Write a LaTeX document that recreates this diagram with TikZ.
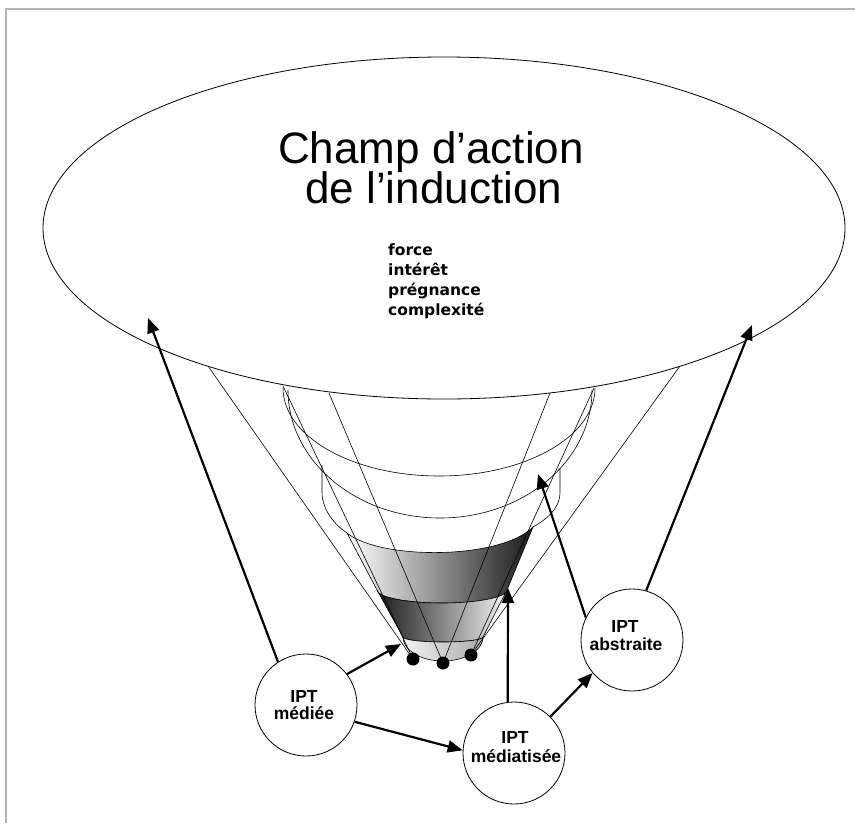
\documentclass[tikz,border=0pt]{standalone}
\usepackage{fontspec}
\setmainfont{Liberation Sans}
\newfontfamily\listfont{DejaVu Sans}
\usetikzlibrary{arrows.meta,shapes.geometric}
\begin{document}
\begin{tikzpicture}[x=1pt,y=-1pt,
  thinline/.style={line width=0.6pt},
  ipt/.style={circle, draw, line width=0.8pt, minimum size=102pt, inner sep=0pt},
  lbl/.style={anchor=base, inner sep=0pt, font=\bfseries\fontsize{17.5}{18}\selectfont},
  qual/.style={anchor=base west, inner sep=0pt, font=\listfont\bfseries\fontsize{15.5}{20}\selectfont},
  ttl/.style={anchor=base west, inner sep=0pt, font=\fontsize{44}{40}\selectfont},
  dot/.style={circle, fill=black, minimum size=13pt, inner sep=0pt},
  bigarrow/.style={line width=2.2pt, -{Triangle[length=15pt,width=12pt]}}]
\useasboundingbox (0,0) rectangle (855,823);
\fill[white] (0,0) rectangle (855,823);
\draw[gray!60, line width=1.5pt] (6,823) -- (6,9) -- (855,9);

% big field ellipse
\node[draw, ellipse, minimum width=802pt, minimum height=342pt, inner sep=0pt, line width=0.8pt] (field) at (444,228) {};
\node[ttl] (title1) at (278,163) {Champ d’action};
\node[ttl] (title2) at (305,203) {de l’induction};
\node[qual] (q1) at (388,255) {force};
\node[qual] (q2) at (388,275) {intérêt};
\node[qual] (q3) at (388,295) {prégnance};
\node[qual] (q4) at (388,315) {complexité};

% funnel rings (outlines)
\draw[thinline] (283,388) arc[start angle=180, end angle=360, x radius=156pt, y radius=88pt];
\draw[thinline] (288,390) arc[start angle=180, end angle=360, x radius=152pt, y radius=128pt];
\draw[thinline] (322,465) -- (322,492) .. controls (322,510) and (335,525) .. (347,533);
\draw[thinline] (560,468) -- (560,492) .. controls (560,510) and (545,520) .. (533,527);

% shaded bands
\shade[left color=white, middle color=gray!55, right color=black!90]
  (347,533) .. controls (380,560) and (500,560) .. (533,527)
  -- (507,590) arc[start angle=360, end angle=180, x radius=65pt, y radius=13pt] -- cycle;
\draw[thinline] (347,533) .. controls (380,560) and (500,560) .. (533,527)
  -- (507,590) arc[start angle=360, end angle=180, x radius=65pt, y radius=13pt] -- cycle;
\shade[left color=black!90, middle color=gray!50, right color=gray!10]
  (377,590) arc[start angle=180, end angle=360, x radius=65pt, y radius=13pt]
  -- (483,637) arc[start angle=360, end angle=180, x radius=40pt, y radius=5pt] -- cycle;
\draw[thinline] (377,590) arc[start angle=180, end angle=360, x radius=65pt, y radius=13pt]
  -- (483,637) arc[start angle=360, end angle=180, x radius=40pt, y radius=5pt] -- cycle;
\shade[left color=gray!10, right color=gray!65]
  (403,637) arc[start angle=180, end angle=360, x radius=40pt, y radius=5pt]
  arc[start angle=360, end angle=180, x radius=40pt, y radius=24pt] -- cycle;
\draw[thinline] (403,637) arc[start angle=180, end angle=360, x radius=40pt, y radius=5pt]
  arc[start angle=360, end angle=180, x radius=40pt, y radius=24pt] -- cycle;

% dots
\node[dot] (dL) at (413,659) {};
\node[dot] (dC) at (443,663) {};
\node[dot] (dR) at (471,655) {};

% converging lines
\coordinate (l1) at (208,366);
\coordinate (l2) at (283,386);
\coordinate (l3) at (329,393);
\coordinate (r3) at (550,393);
\coordinate (r2) at (594,388);
\coordinate (r1) at (680,366);
\draw[thinline] (l1) -- (dL.center);
\draw[thinline] (l2) -- (dL.center);
\draw[thinline] (l3) -- (dC.center);
\draw[thinline] (r3) -- (dC.center);
\draw[thinline] (r2) -- (dR.center);
\draw[thinline] (r1) -- (dR.center);

% IPT circles
\node[ipt] (med) at (306,705) {};
\node[ipt] (mdt) at (514,753) {};
\node[ipt] (abs) at (632,640) {};
\node[lbl] (medA) at (304,702) {IPT};
\node[lbl] (medB) at (304,719) {médiée};
\node[lbl] (mdtA) at (515,743) {IPT};
\node[lbl] (mdtB) at (516,762) {médiatisée};
\node[lbl] (absA) at (625,632) {IPT};
\node[lbl] (absB) at (626,650) {abstraite};

% arrow targets
\coordinate (tipL) at (148,318);
\coordinate (tipF) at (401,644);
\coordinate (tipC) at (508,588);
\coordinate (tipR) at (538,474);
\coordinate (tipE) at (752,325);

\draw[bigarrow] (med.123) -- (tipL);
\draw[bigarrow] (med.37) -- (tipF);
\draw[bigarrow] (med.-19) -- (mdt.177);
\draw[bigarrow] (mdt.97) -- (tipC);
\draw[bigarrow] (mdt.45) -- (abs.220);
\draw[bigarrow] (abs.154) -- (tipR);
\draw[bigarrow] (abs.74) -- (tipE);
\end{tikzpicture}
\end{document}
